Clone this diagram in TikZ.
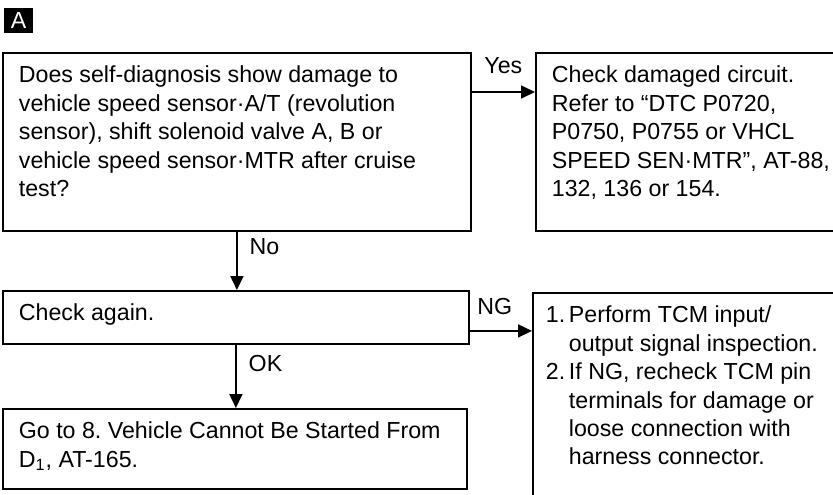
\documentclass[tikz,border=0pt]{standalone}
\usepackage{fontspec}
\setmainfont{Liberation Sans}
\usetikzlibrary{arrows.meta,calc}
\frenchspacing

\tikzset{
  stepbox/.style n args={2}{draw, line width=0.9pt, anchor=north west,
    inner xsep=8pt, inner ysep=0pt,
    execute at begin node={\begin{minipage}[t][#2][t]{#1}\raggedright\rule{0pt}{15pt}},
    execute at end node={\end{minipage}}},
  flow/.style={-{Triangle[length=7pt,width=6.5pt]}, line width=0.8pt},
  answer/.style={inner sep=0pt},
}
\newcommand{\itemnum}[1]{\makebox[11.5pt][l]{#1}}
\newcommand{\itemgap}{\hspace*{11.5pt}}

\begin{document}
\begin{tikzpicture}[x=0.5pt, y=-0.5pt, font=\fontsize{11.6pt}{14.2pt}\selectfont]
  \clip (0,0) rectangle (833,494);

  % Section tag
  \node[fill=black, text=white, minimum width=14.5pt, minimum height=12.5pt,
        inner sep=0pt] (tag) at (18.5,20.5) {A};

  % Question box and the Yes branch
  \node[stepbox={218pt}{89pt}] (diag) at (2,52)
    {Does self-diagnosis show damage to\\
     vehicle speed sensor·A/T (revolution\\
     sensor), shift solenoid valve A, B or\\
     vehicle speed sensor·MTR after cruise\\
     test?};
  \node[stepbox={139pt}{89pt}] (circ) at (535,52)
    {Check damaged circuit.\\
     Refer to “DTC P0720,\\
     P0750, P0755 or VHCL\\
     SPEED SEN·MTR”, AT-88,\\
     132, 136 or 154.};

  % Second check and its outcomes
  \node[stepbox={217pt}{26.5pt}] (check) at (2,290) {Check again.};
  \node[stepbox={143.5pt}{106.5pt}, inner xsep=6.5pt] (perform) at (532,292)
    {\itemnum{1.}Perform TCM input/\\
     \itemgap output signal inspection.\\
     \itemnum{2.}If NG, recheck TCM pin\\
     \itemgap terminals for damage or\\
     \itemgap loose connection with\\
     \itemgap harness connector.};
  \node[stepbox={216pt}{40pt}] (goto) at (2,408)
    {Go to 8. Vehicle Cannot Be Started From\\
     D\textsubscript{1}, AT-165.};

  % Connectors
  \draw[flow] ([yshift=-20pt]diag.north east) coordinate (yes) -- (yes -| circ.west)
    node[answer, midway, above=8.5pt] {Yes};
  \draw[flow] (diag.south) -- (diag.south |- check.north)
    node[answer, pos=0.25, right=6pt] {No};
  \draw[flow] ([yshift=-6.75pt]check.east) coordinate (ng) -- (ng -| perform.west)
    node[answer, pos=0.4, above=7.5pt] {NG};
  \draw[flow] (check.south) -- (check.south |- goto.north)
    node[answer, pos=0.29, right=6pt] {OK};
\end{tikzpicture}
\end{document}
